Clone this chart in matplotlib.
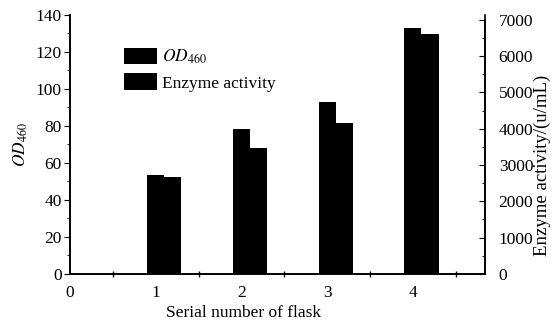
import numpy as np
import matplotlib
matplotlib.use("Agg")
import matplotlib.pyplot as plt
from matplotlib.ticker import MultipleLocator, FixedLocator
from matplotlib.patches import Patch

plt.rcParams['font.family'] = ['Liberation Serif', 'DejaVu Serif']
plt.rcParams['mathtext.fontset'] = 'stix'

# flask data
flasks = [1, 2, 3, 4]
od460 = [53.5, 78.5, 93, 133]
enzyme = [2670, 3470, 4160, 6610]

x = np.array(flasks, dtype=float)
w = 0.2

fig = plt.figure(figsize=(5.56, 3.23), dpi=100)
ax = fig.add_axes([0.126, 0.152, 0.746, 0.802])
ax2 = ax.twinx()

ax.bar(x, od460, width=w, color='black', zorder=3)
ax2.bar(x + w, enzyme, width=w, color='black', zorder=3)

ax.set_xlim(0, 4.84)
ax.set_ylim(0, 140)
ax2.set_ylim(0, 7140)

# labels on integers, tick marks only on half steps
ax.set_xticks([0, 1, 2, 3, 4])
ax.xaxis.set_minor_locator(FixedLocator([0.5, 1.5, 2.5, 3.5, 4.5]))
ax.tick_params(axis='x', which='major', length=0, pad=8, labelsize=12.5)
ax.tick_params(axis='x', which='minor', length=5, direction='inout', width=1)

ax.yaxis.set_major_locator(MultipleLocator(20))
ax.yaxis.set_minor_locator(MultipleLocator(10))
ax.tick_params(axis='y', which='major', direction='out', length=4, labelsize=12.5, pad=2)
ax.tick_params(axis='y', which='minor', direction='out', length=2)

ax2.yaxis.set_major_locator(FixedLocator(np.arange(0, 7001, 1000)))
ax2.yaxis.set_minor_locator(FixedLocator(np.arange(500, 7000, 1000)))
ax2.tick_params(axis='y', which='major', direction='in', length=4, labelsize=12.5, pad=10)
ax2.tick_params(axis='y', which='minor', direction='in', length=2)

for a in (ax, ax2):
    a.spines['top'].set_visible(False)
    for s in a.spines.values():
        s.set_linewidth(1.2)
ax2.spines['right'].set_bounds(0, 7000)

ax.set_xlabel('Serial number of flask', fontsize=12.5)
ax.xaxis.set_label_coords(0.417, -0.12)
ax.set_ylabel(r'$OD_{\mathrm{460}}$', fontsize=12.5, labelpad=4)
ax2.set_ylabel('Enzyme activity/(u/mL)', fontsize=13.5)
ax2.yaxis.set_label_coords(1.118, 0.42)

handles = [Patch(facecolor='black', label=r'$OD_{\mathrm{460}}$'),
           Patch(facecolor='black', label='Enzyme activity')]
ax.legend(handles=handles, loc='upper left', bbox_to_anchor=(0.113, 0.9),
          frameon=False, fontsize=12.5, handlelength=1.9, handleheight=1.1,
          handletextpad=0.3, labelspacing=0.4, borderaxespad=0)

fig.savefig('out.png', dpi=100)
